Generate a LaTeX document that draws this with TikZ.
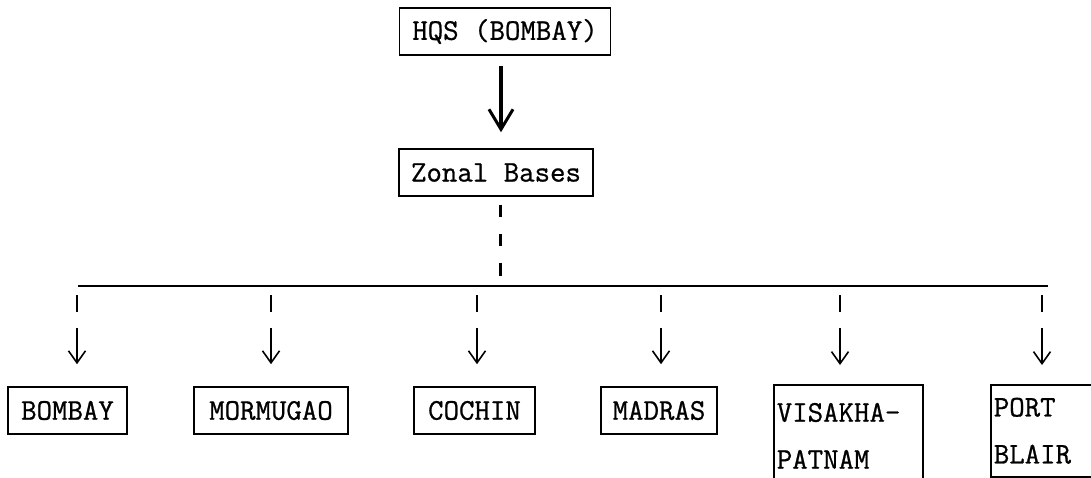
\documentclass[tikz,border=0pt]{standalone}
\usepackage{fontspec}
\newfontfamily\typew[FakeBold=0.8]{Latin Modern Mono}
\usetikzlibrary{arrows.meta}
\begin{document}
\begin{tikzpicture}[x=1pt,y=-1pt,
  box/.style={draw,line width=1.6pt,font=\typew\fontsize{30}{47}\selectfont,inner sep=0pt,minimum height=47pt,anchor=center},
  tallbox/.style={box,align=left,inner xsep=3pt,anchor=north west},
  busline/.style={line width=2.8pt},
  mainarrow/.style={line width=3.6pt,-{Straight Barb[length=20pt,width=24pt,line width=3pt]}},
  zonaldash/.style={line width=3pt,dash pattern=on 0pt off 8pt on 12pt off 17pt on 12pt off 17pt on 13pt off 30pt},
  drop/.style={line width=1.6pt,dash pattern=on 0pt off 9pt on 17pt off 16pt on 80pt,-{Straight Barb[length=12pt,width=17pt,line width=1.6pt]}}
]
\useasboundingbox (0,0) rectangle (1091,477);
\clip (0,0) rectangle (1091,477);
\fill[white] (0,0) rectangle (1091,477);

% top nodes
\node[box,minimum width=211pt] (hqs) at (505,31.5) {HQS (BOMBAY)};
\node[box,minimum width=194pt] (zonal) at (496,172.5) {Zonal Bases};

% axis coordinates
\coordinate (ax) at (501,0);
\coordinate (dx) at (500,0);
\coordinate (busL) at (78,286);
\coordinate (busR) at (1048,286);
\coordinate (busM) at (500,286);

\draw[mainarrow,shorten <=10pt,shorten >=16pt] (hqs.south -| ax) -- (zonal.north -| ax);
\draw[zonaldash] (zonal.south -| dx) -- (busM);
\draw[busline] (busL) -- (busR);

% bottom nodes
\node[box,minimum width=119pt] (bombay) at (67.5,410.5) {BOMBAY};
\node[box,minimum width=154pt] (mormugao) at (271,410.5) {MORMUGAO};
\node[box,minimum width=121pt] (cochin) at (474.5,410.5) {COCHIN};
\node[box,minimum width=116pt] (madras) at (659,410.5) {MADRAS};
\node[tallbox,minimum width=149pt,minimum height=102pt,text width=143pt] (visakha) at (773,384) {VISAKHA-\\PATNAM};
\node[tallbox,minimum width=125pt,minimum height=92pt,text width=119pt] (port) at (990,384) {PORT\\BLAIR};

% drop points on the bus
\coordinate (d1) at (77,286);
\coordinate (d2) at (271,286);
\coordinate (d3) at (477,286);
\coordinate (d4) at (661,286);
\coordinate (d5) at (840,286);
\coordinate (d6) at (1042,286);

\draw[drop,shorten >=22pt] (d1) -- (d1 |- bombay.north);
\draw[drop,shorten >=22pt] (d2) -- (d2 |- mormugao.north);
\draw[drop,shorten >=22pt] (d3) -- (d3 |- cochin.north);
\draw[drop,shorten >=22pt] (d4) -- (d4 |- madras.north);
\draw[drop,shorten >=19pt] (d5) -- (d5 |- visakha.north);
\draw[drop,shorten >=19pt] (d6) -- (d6 |- port.north);
\end{tikzpicture}
\end{document}
